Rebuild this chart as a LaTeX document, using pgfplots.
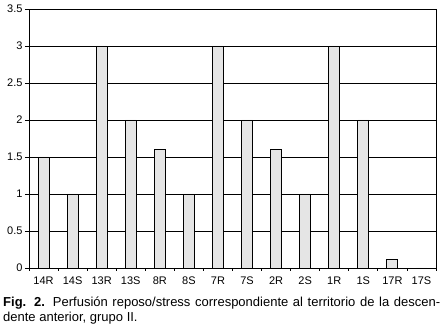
\documentclass[border=0pt]{standalone}
\usepackage{pgfplots}
\pgfplotsset{compat=1.18}
\usepackage{fontspec}
\setmainfont{Liberation Sans}
\begin{document}
\begin{tikzpicture}
\useasboundingbox (-29pt,-68pt) rectangle (415pt,268pt);
\begin{axis}[
  at={(0pt,0pt)}, anchor=south west,
  scale only axis, width=407pt, height=259pt,
  ymin=0, ymax=3.5, ytick={0,0.5,...,3.5},
  xmin=-0.5, xmax=13.5,
  xtick={0,...,13},
  xticklabels={14R,14S,13R,13S,8R,8S,7R,7S,2R,2S,1R,1S,17R,17S},
  major x tick style={draw=none},
  extra x ticks={-0.5,0.5,...,13.5},
  extra x tick labels={},
  extra x tick style={tick align=outside, major tick length=3pt, grid=none, major x tick style={draw=black}},
  ymajorgrids, grid style={black, line width=0.8pt},
  axis line style={black, line width=0.8pt},
  tick align=outside, major tick length=4pt,
  every tick/.style={black, line width=0.8pt},
  ytick pos=left, xtick pos=bottom,
  /pgf/number format/assume math mode=true,
  tick label style={font=\fontsize{11}{12}\selectfont, black},
  yticklabel style={xshift=1pt},
  xticklabel style={yshift=-1pt},
]
\addplot[ybar, bar width=11pt, fill=gray!20, draw=black, line width=0.8pt] coordinates {
(0,1.5) (1,1) (2,3) (3,2) (4,1.6) (5,1) (6,3) (7,2) (8,1.6) (9,1) (10,3) (11,2) (12,0.12) (13,0)
};
\end{axis}
\node[anchor=base west, inner sep=0pt, text width=437pt, align=justify, font=\fontsize{13}{14.5}\selectfont] at (-26pt,-39pt)
{\textbf{Fig. 2.} Perfusión reposo/stress correspondiente al territorio de la descen-\linebreak dente anterior, grupo II.};
\end{tikzpicture}
\end{document}
